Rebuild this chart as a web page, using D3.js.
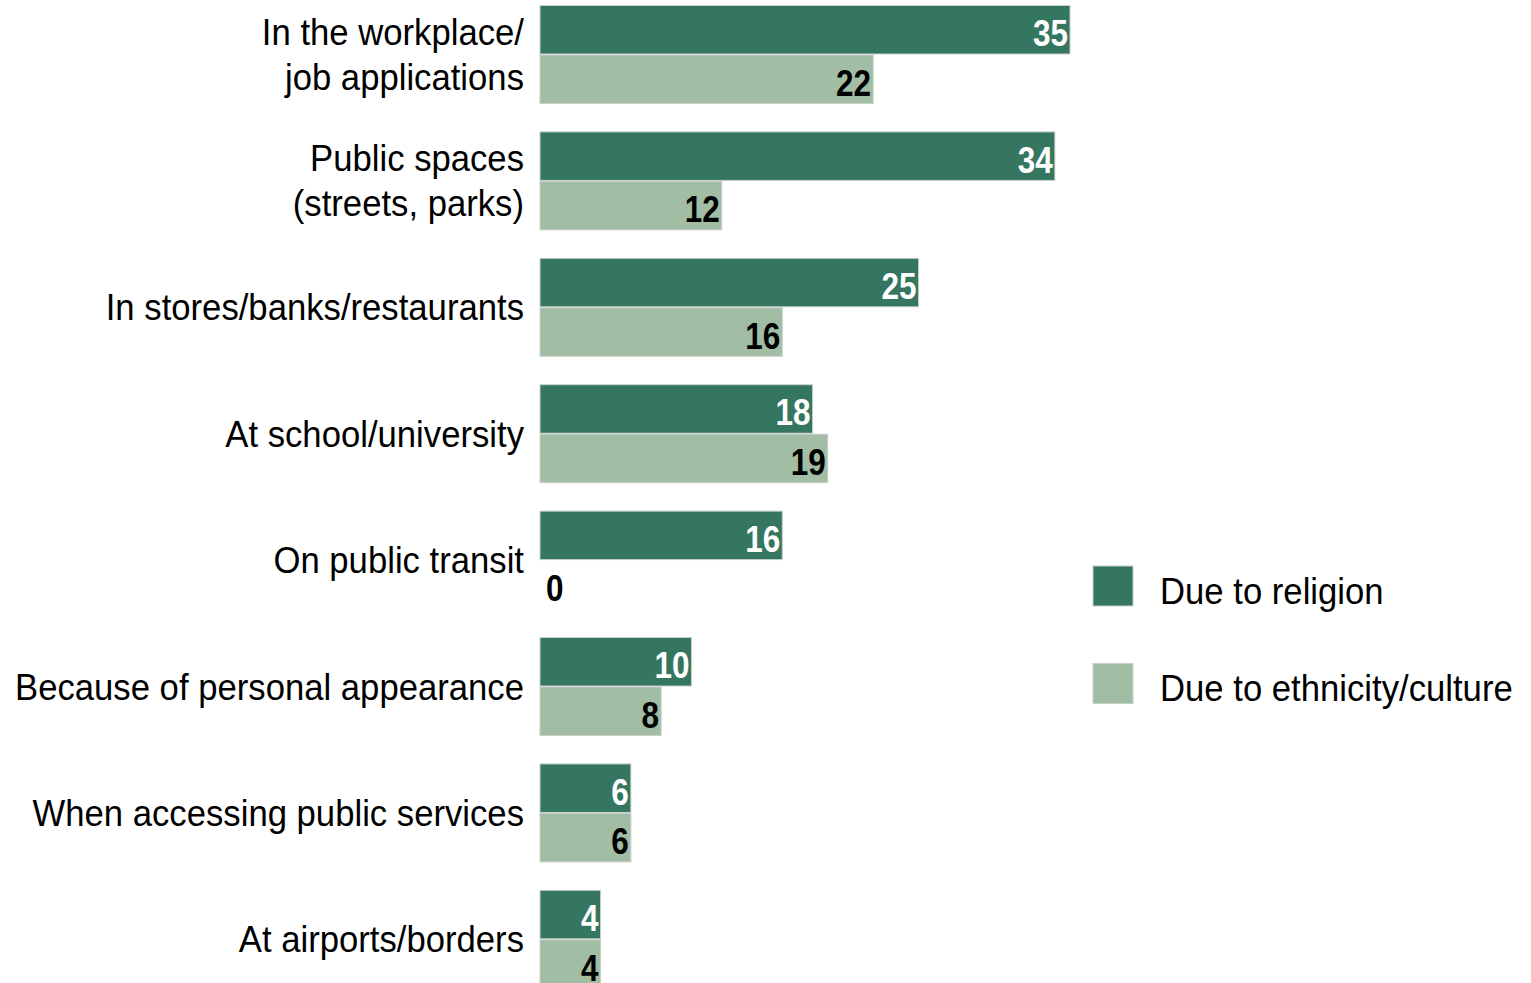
<!DOCTYPE html>
<html>
<head>
<meta charset="utf-8">
<script src="https://cdn.jsdelivr.net/npm/d3@7/dist/d3.min.js"></script>
<style>
  html, body { margin: 0; padding: 0; background: #fff; overflow: hidden; }
  svg { display: block; font-family: "Liberation Sans", Arial, "DejaVu Sans", sans-serif; }
</style>
</head>
<body>
<svg id="chart" width="1531" height="983"></svg>
<script>
// Places where discrimination was experienced, share of respondents (%)
const categories = [
  ["In the workplace/", "job applications"],
  ["Public spaces", "(streets, parks)"],
  ["In stores/banks/restaurants"],
  ["At school/university"],
  ["On public transit"],
  ["Because of personal appearance"],
  ["When accessing public services"],
  ["At airports/borders"]
];
const seriesNames = ["Due to religion", "Due to ethnicity/culture"];
const religion  = [35, 34, 25, 18, 16, 10, 6, 4];
const ethnicity = [22, 12, 16, 19, 0, 8, 6, 4];
const colors = ["#347660", "#a1bea5"];
const labelColors = ["#ffffff", "#000000"];

// condensed look: horizontally squeezed glyphs
const textSquash = 0.925;
const valueSquash = 0.84;

const svg = d3.select("#chart");
const keys = categories.map(c => c.join(" "));
const rows = keys.map((k, i) => ({ key: k, lines: categories[i], values: [religion[i], ethnicity[i]] }));

const x = d3.scaleLinear().domain([0, 35]).range([540, 1070]);
const y = d3.scaleBand().domain(keys).range([5.5, 988.3]).paddingInner(0.225).paddingOuter(0);
const ySub = d3.scaleBand().domain(seriesNames).range([0, y.bandwidth()]).paddingInner(0.02);

const groups = svg.selectAll("g.group").data(rows).join("g")
  .attr("class", "group")
  .attr("transform", d => `translate(0,${y(d.key)})`);

// bars
groups.selectAll("rect").data(d => d.values.map((v, j) => ({ v, j })))
  .join("rect")
  .attr("x", x(0))
  .attr("y", d => ySub(seriesNames[d.j]))
  .attr("width", d => x(d.v) - x(0))
  .attr("height", ySub.bandwidth())
  .attr("fill", d => colors[d.j])
  .attr("stroke", d => d.v > 0 ? "#c8cfca" : "none")
  .attr("stroke-width", 1);

// value labels, inside the bar end (or just past the axis for zero)
groups.selectAll("g.val").data(d => d.values.map((v, j) => ({ v, j })))
  .join("g")
  .attr("class", "val")
  .attr("transform", d => {
    const tx = d.v === 0 ? x(0) + 6 : x(d.v) - 2;
    const ty = ySub(seriesNames[d.j]) + ySub.bandwidth() / 2 + 16.5;
    return `translate(${tx},${ty}) scale(${valueSquash},1)`;
  })
  .append("text")
  .attr("text-anchor", d => d.v === 0 ? "start" : "end")
  .attr("font-size", 37.5)
  .attr("font-weight", "bold")
  .attr("fill", d => d.v === 0 ? "#000" : labelColors[d.j])
  .text(d => d.v);

// category labels
groups.each(function (d) {
  const g = d3.select(this);
  const mid = y.bandwidth() / 2;
  const lh = 45;
  const n = d.lines.length;
  d.lines.forEach((line, i) => {
    g.append("g")
      .attr("transform", `translate(524,${mid + 13 + (i - (n - 1) / 2) * lh}) scale(${textSquash},1)`)
      .append("text")
      .attr("text-anchor", "end")
      .attr("font-size", 37.5)
      .attr("fill", "#000")
      .text(line);
  });
});

// legend
const legend = svg.append("g").selectAll("g").data(seriesNames).join("g")
  .attr("transform", (d, i) => `translate(1093,${566 + i * 97.5})`);
legend.append("rect")
  .attr("width", 40).attr("height", 40)
  .attr("fill", (d, i) => colors[i])
  .attr("stroke", "#c8cfca").attr("stroke-width", 1);
legend.append("g")
  .attr("transform", `translate(67,37.5) scale(${textSquash},1)`)
  .append("text")
  .attr("font-size", 37.5)
  .attr("fill", "#000")
  .text(d => d);
</script>
</body>
</html>
